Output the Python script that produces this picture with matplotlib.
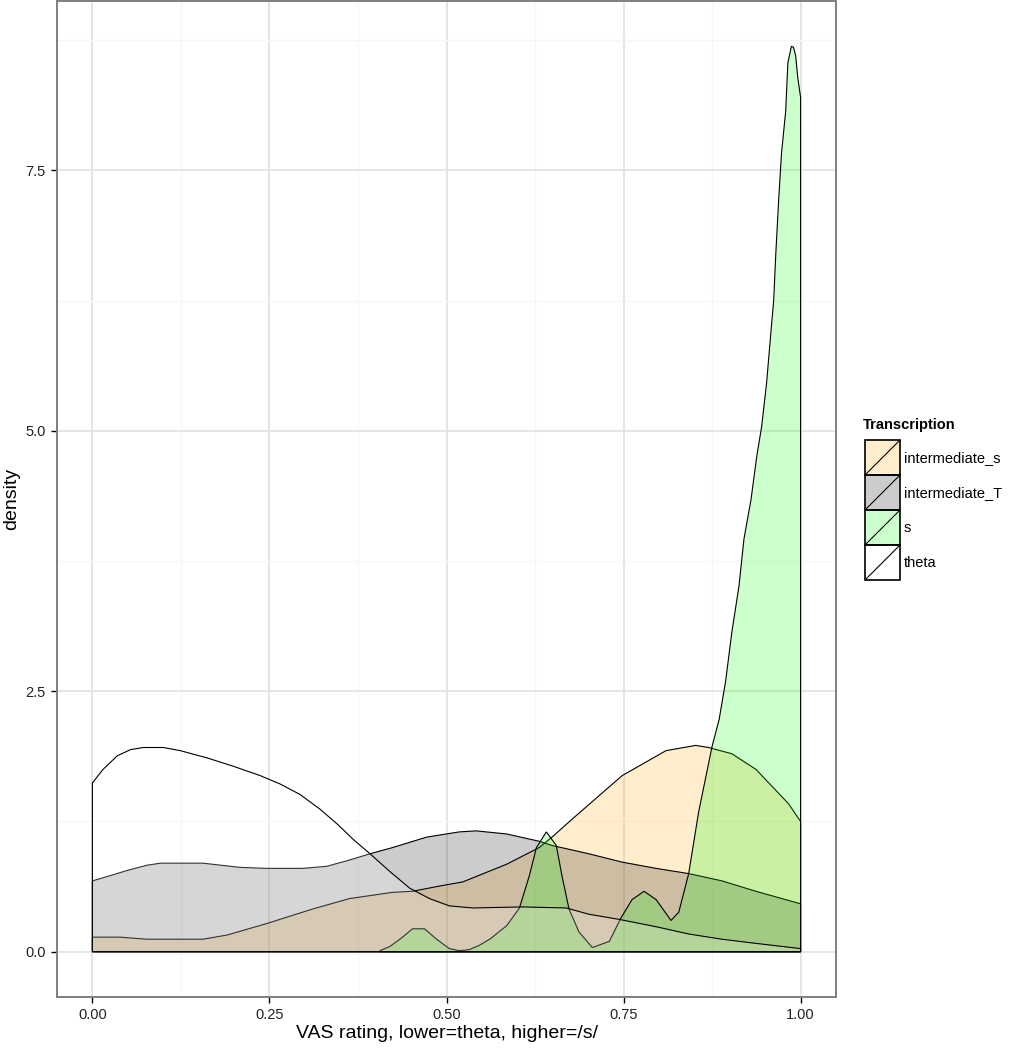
import numpy as np
import matplotlib
matplotlib.use("Agg")
from matplotlib import pyplot as plt
from matplotlib.patches import Rectangle
from matplotlib.lines import Line2D

plt.rcParams['font.family'] = ['Liberation Sans', 'DejaVu Sans']

# density curves (x = VAS rating, y = density)
int_s_x = [0.0, 0.039, 0.077, 0.156, 0.190, 0.246, 0.311, 0.363, 0.424, 0.452, 0.490, 0.523,
           0.585, 0.631, 0.649, 0.677, 0.748, 0.810, 0.852, 0.870, 0.903, 0.937, 0.983, 1.0]
int_s_y = [0.14, 0.14, 0.12, 0.12, 0.16, 0.27, 0.41, 0.51, 0.57, 0.58, 0.63, 0.67,
           0.84, 1.00, 1.10, 1.27, 1.69, 1.93, 1.98, 1.96, 1.90, 1.75, 1.42, 1.25]

int_T_x = [0.0, 0.025, 0.049, 0.077, 0.096, 0.156, 0.208, 0.246, 0.297, 0.331, 0.363, 0.392,
           0.424, 0.472, 0.518, 0.542, 0.585, 0.631, 0.649, 0.701, 0.748, 0.796, 0.842, 0.889,
           0.937, 1.0]
int_T_y = [0.68, 0.73, 0.78, 0.83, 0.85, 0.85, 0.81, 0.80, 0.80, 0.82, 0.88, 0.94,
           1.00, 1.10, 1.15, 1.16, 1.13, 1.06, 1.02, 0.94, 0.86, 0.80, 0.75, 0.68,
           0.58, 0.46]

s_x = [0.406, 0.420, 0.438, 0.452, 0.469, 0.486, 0.504, 0.518, 0.532, 0.546, 0.561, 0.585,
       0.603, 0.617, 0.627, 0.641, 0.655, 0.663, 0.673, 0.687, 0.706, 0.730, 0.746, 0.762,
       0.779, 0.796, 0.817, 0.828, 0.842, 0.856, 0.875, 0.885, 0.894, 0.903, 0.913, 0.920,
       0.930, 0.938, 0.945, 0.952, 0.958, 0.962, 0.965, 0.969, 0.973, 0.979, 0.982, 0.987,
       0.990, 0.993, 0.996, 1.0]
s_y = [0.01, 0.05, 0.14, 0.22, 0.22, 0.12, 0.03, 0.01, 0.02, 0.06, 0.12, 0.25,
       0.42, 0.73, 1.00, 1.15, 1.02, 0.73, 0.41, 0.19, 0.04, 0.10, 0.32, 0.50,
       0.58, 0.50, 0.30, 0.38, 0.75, 1.34, 1.97, 2.23, 2.59, 3.07, 3.51, 3.96,
       4.34, 4.75, 5.04, 5.46, 5.94, 6.25, 6.70, 7.21, 7.66, 8.07, 8.53, 8.69,
       8.68, 8.60, 8.39, 8.20]

theta_x = [0.0, 0.015, 0.035, 0.054, 0.072, 0.100, 0.124, 0.162, 0.199, 0.237, 0.265, 0.293,
           0.321, 0.345, 0.368, 0.392, 0.420, 0.448, 0.476, 0.504, 0.537, 0.607, 0.669, 0.701,
           0.744, 0.796, 0.842, 0.889, 0.937, 1.0]
theta_y = [1.62, 1.75, 1.88, 1.94, 1.96, 1.96, 1.93, 1.86, 1.78, 1.69, 1.61, 1.51,
           1.37, 1.23, 1.08, 0.94, 0.77, 0.61, 0.51, 0.44, 0.42, 0.43, 0.42, 0.36,
           0.31, 0.24, 0.17, 0.12, 0.08, 0.03]

groups = ["intermediate_s", "intermediate_T", "s", "theta"]
fills = ["orange", "black", "#00ff00", "white"]
curves = [(int_s_x, int_s_y), (int_T_x, int_T_y), (s_x, s_y), (theta_x, theta_y)]

fig = plt.figure(figsize=(10.19, 10.5), dpi=100)
ax = fig.add_axes([57 / 1019, 1 - 997 / 1050, (836 - 57) / 1019, 996 / 1050])

for (cx, cy), col in zip(curves, fills):
    px = np.concatenate([[cx[0]], cx, [cx[-1]]])
    py = np.concatenate([[0], cy, [0]])
    ax.fill(px, py, facecolor=matplotlib.colors.to_rgba(col, 0.2),
            edgecolor="black", linewidth=0.8, zorder=3)

ymax = 8.69
ax.set_xlim(-0.05, 1.05)
ax.set_ylim(-0.05 * ymax, 1.05 * ymax)
ax.set_xticks([0, 0.25, 0.5, 0.75, 1.0])
ax.set_xticklabels(["0.00", "0.25", "0.50", "0.75", "1.00"])
ax.set_yticks([0, 2.5, 5.0, 7.5])
ax.set_yticklabels(["0.0", "2.5", "5.0", "7.5"])
ax.set_xticks([0.125, 0.375, 0.625, 0.875], minor=True)
ax.set_yticks([1.25, 3.75, 6.25, 8.75], minor=True)
ax.grid(which="major", color="#e3e3e3", linewidth=1.3, zorder=0)
ax.grid(which="minor", color="#f6f6f6", linewidth=0.8, zorder=0)
ax.set_axisbelow(True)
ax.tick_params(which="minor", length=0)
ax.tick_params(which="major", length=4, width=1, color="black", labelsize=10.5,
               labelcolor="#222222", pad=4)
for sp in ax.spines.values():
    sp.set_color("#7f7f7f")
    sp.set_linewidth(1.4)

ax.set_xlabel("VAS rating, lower=theta, higher=/s/", fontsize=14)
ax.xaxis.set_label_coords(0.5, -0.028)
ax.set_ylabel("density", fontsize=14)
ax.yaxis.set_label_coords(-0.047, 0.5)

# legend drawn by hand in pixel coordinates
lax = fig.add_axes([0, 0, 1, 1])
lax.set_xlim(0, 1019)
lax.set_ylim(1050, 0)
lax.axis("off")
lax.text(863, 425, "Transcription", fontsize=10.5, fontweight="bold", va="center", ha="left")
for i, (g, col) in enumerate(zip(groups, fills)):
    y0 = 440 + i * 35
    lax.add_patch(Rectangle((865, y0), 35, 35, facecolor=matplotlib.colors.to_rgba(col, 0.2),
                            edgecolor="black", linewidth=1.2))
    lax.add_line(Line2D([866, 899], [y0 + 34, y0 + 1], color="black", linewidth=0.8))
    lax.text(904, y0 + 18, g, fontsize=10.5, va="center", ha="left")

fig.savefig("out.png", dpi=100)
